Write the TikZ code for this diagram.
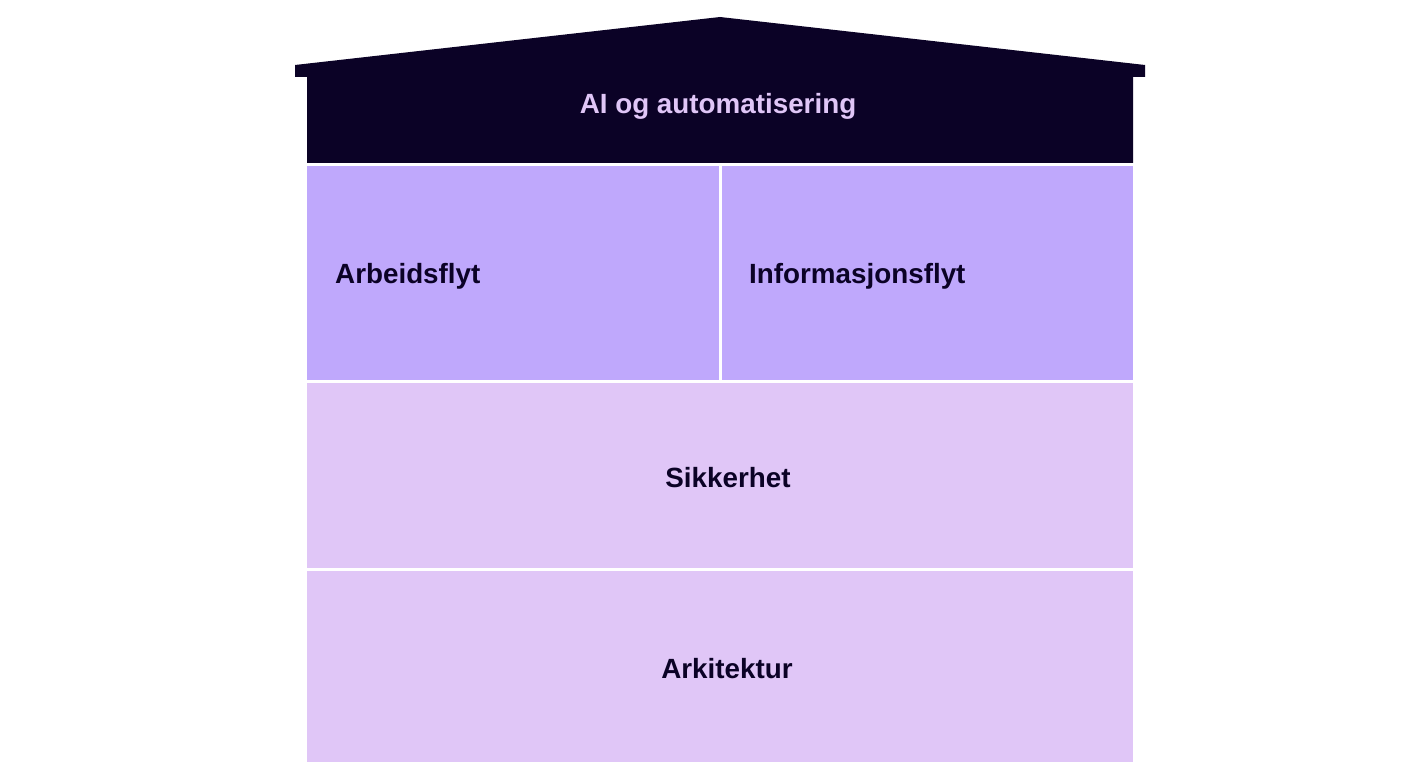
\documentclass[tikz,border=0pt]{standalone}
\usepackage{fontspec}
\setmainfont{Liberation Sans}
\definecolor{roofc}{HTML}{0B0226}
\definecolor{flowc}{HTML}{BFA8FC}
\definecolor{basec}{HTML}{E0C6F7}
\definecolor{textc}{HTML}{0B0226}
\tikzset{
  lbl/.style={font=\fontsize{27.8}{30}\selectfont\bfseries, text=textc, inner sep=0pt},
  roofl/.style={lbl, text=basec}
}
\begin{document}
\begin{tikzpicture}[x=1pt,y=-1pt]
\useasboundingbox[fill=white] (0,0) rectangle (1402,783);
% roof
\fill[roofc] (295,65) -- (720,17) -- (1145,65) -- (1145,77) -- (1133,77) -- (1133,163) -- (307,163) -- (307,77) -- (295,77) -- cycle;
\node[roofl] (ai) at (718,106) {AI og automatisering};
% flow row
\fill[flowc] (307,166) rectangle (719,380);
\fill[flowc] (722,166) rectangle (1133,380);
\node[lbl, anchor=west] (arb) at (335,276) {Arbeidsflyt};
\node[lbl, anchor=west] (inf) at (749,276) {Informasjonsflyt};
% security
\fill[basec] (307,383) rectangle (1133,568);
\node[lbl] (sik) at (728,478) {Sikkerhet};
% architecture
\fill[basec] (307,571) rectangle (1133,762);
\node[lbl] (ark) at (727,669) {Arkitektur};
\end{tikzpicture}
\end{document}
